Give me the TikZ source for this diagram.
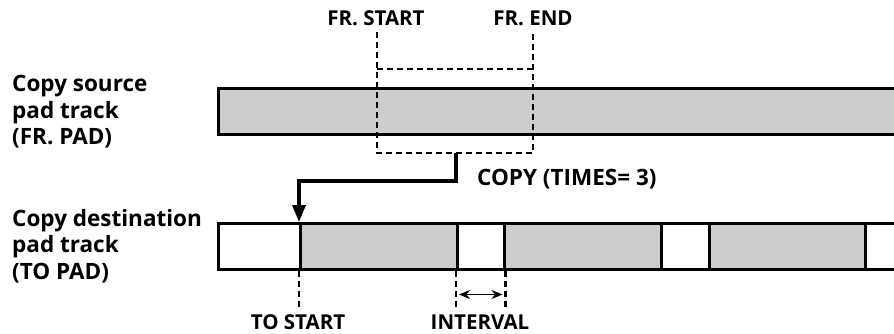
\documentclass[tikz,border=0pt]{standalone}
\usepackage{fontspec}
\setmainfont{Open Sans}
\usetikzlibrary{positioning,calc}
\usetikzlibrary{arrows.meta}
\definecolor{PadGray}{RGB}{204,204,204}
\tikzset{
	track/.style={draw=black,line width=2.5pt,fill=PadGray,minimum height=46pt,inner sep=0pt,anchor=north west},
	gap/.style={track,fill=white},
	guide/.style={black,line width=2.2pt,dash pattern=on 6pt off 4pt},
	lbl/.style={font=\fontsize{20.5}{26}\selectfont\bfseries,inner sep=0pt},
	side/.style={lbl,font=\fontsize{22.5}{26.5}\selectfont\bfseries,align=left,anchor=west},
}

\begin{document}
\begin{tikzpicture}[x=1pt,y=-1pt]
			\useasboundingbox (0,0) rectangle (894,334);
			% source track
			\node[track,minimum width=700pt] (src) at (217,87.5) {};
			% destination track
			\node[gap,minimum width=82pt] (d0) at (217,222) {};
			\node[track,minimum width=157pt] (d1) at (299,222) {};
			\node[gap,minimum width=47pt] (d2) at (456,222) {};
			\node[track,minimum width=157pt] (d3) at (503,222) {};
			\node[gap,minimum width=48pt] (d4) at (660,222) {};
			\node[track,minimum width=156pt] (d5) at (708,222) {};
			\node[gap,minimum width=60pt] (d6) at (864,222) {};
			% labels
			\node[side] (srcname) at (12,112) {Copy source\\pad track\\(FR. PAD)};
			\node[side] (dstname) at (12,246) {Copy destination\\pad track\\(TO PAD)};
			\node[lbl] (frs) at (376,18) {FR. START};
			\node[lbl] (fre) at (533,18) {FR. END};
			\node[lbl,font=\fontsize{22.5}{26}\selectfont\bfseries,anchor=west] (copy) at (477,179) {COPY (TIMES= 3)};
			\node[lbl] (tos) at (298,322) {TO START};
			\node[lbl] (intv) at (480,322) {INTERVAL};
			% copied range
			\coordinate (cs) at (377,153);
			\coordinate (ce) at (533,153);
			\coordinate (cm) at (456,153);
			\draw[guide] (377,32) -- (cs) -- (ce) -- (533,32);
			\draw[guide] (377,69) -- (533,69);
			\draw[line width=3.4pt,-{Triangle[length=17pt,width=13pt]}] (cm) -- ++(0,28) -| (d1.north west);
			% interval
			\draw[guide] (d1.south west) -- ++(0,37);
			\draw[guide] (d2.south west) -- ++(0,37);
			\draw[guide] (d2.south east) -- ++(0,37);
			\draw[line width=1.6pt,{Stealth[length=11pt,width=9pt]}-{Stealth[length=11pt,width=9pt]}] ($(d2.south west)+(3,24)$) -- ($(d2.south east)+(-3,24)$);
		\end{tikzpicture}
\end{document}
